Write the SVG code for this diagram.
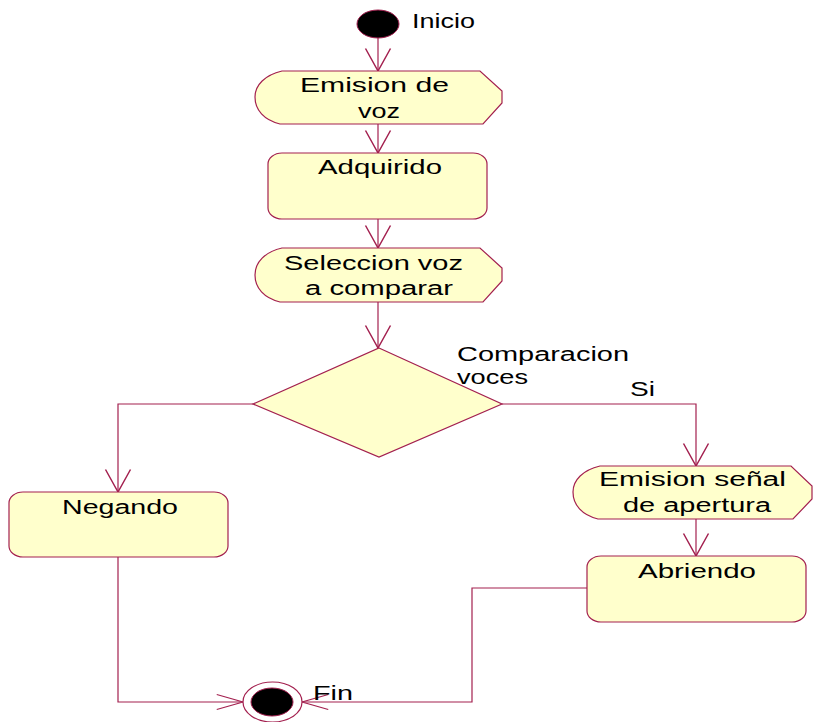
<svg xmlns="http://www.w3.org/2000/svg" width="814" height="722" viewBox="0 0 814 722">
<style>
.n{fill:#ffffcc;stroke:#a3204f;stroke-width:1.2}
.c{fill:none;stroke:#a3204f;stroke-width:1.2}
.t{font-family:"Liberation Sans",Arial,sans-serif;font-size:20px;fill:#000}
.m{text-anchor:middle}
</style>
<defs>
<marker id="arrV" markerUnits="userSpaceOnUse" orient="auto" markerWidth="30" markerHeight="30" refX="0" refY="0" viewBox="-20 -12 22 24" overflow="visible">
<path d="M-18,-10 L0,0 L-18,10" fill="none" stroke="#a3204f" stroke-width="1.2"/>
</marker>
<marker id="arrH" markerUnits="userSpaceOnUse" orient="auto" markerWidth="30" markerHeight="30" refX="0" refY="0" viewBox="-30 -10 32 20" overflow="visible">
<path d="M-28,-8 L0,0 L-28,8" fill="none" stroke="#a3204f" stroke-width="1.2"/>
</marker>
</defs>
<g id="connectors">
<path class="c" d="M378,38 L378,71" marker-end="url(#arrV)"/>
<path class="c" d="M378,124 L378,153" marker-end="url(#arrV)"/>
<path class="c" d="M378,219 L378,248" marker-end="url(#arrV)"/>
<path class="c" d="M378,302 L378,348" marker-end="url(#arrV)"/>
<path class="c" d="M253,404 L118,404 L118,492" marker-end="url(#arrV)"/>
<path class="c" d="M502,404 L696,404 L696,466" marker-end="url(#arrV)"/>
<text class="t" x="630" y="396" textLength="25" lengthAdjust="spacingAndGlyphs">Si</text>
<path class="c" d="M696,519 L696,556" marker-end="url(#arrV)"/>
<path class="c" d="M118,557 L118,702 L243,702" marker-end="url(#arrH)"/>
<path class="c" d="M587,588 L472,588 L472,702 L302,702" marker-end="url(#arrH)"/>
</g>
<g id="inicio">
<ellipse cx="378" cy="24" rx="21" ry="14" fill="#000" stroke="#a3204f" stroke-width="1"/>
<text class="t" x="412" y="28" textLength="63" lengthAdjust="spacingAndGlyphs">Inicio</text>
</g>
<g id="emision-voz">
<path class="n" d="M282,71 L480,71 L502,91 L502,103 L483,124 L280,124 C264,120 255,110 255,97 C255,85 265,75 282,71 Z"/>
<text class="t" x="300" y="92" textLength="149" lengthAdjust="spacingAndGlyphs">Emision de</text>
<text class="t" x="358" y="118" textLength="42" lengthAdjust="spacingAndGlyphs">voz</text>
</g>
<g id="adquirido">
<rect class="n" x="268" y="153" width="219" height="66" rx="14" ry="11"/>
<text class="t" x="318" y="174" textLength="124" lengthAdjust="spacingAndGlyphs">Adquirido</text>
</g>
<g id="seleccion">
<path class="n" d="M282,248 L480,248 L502,268 L502,281 L483,302 L280,302 C264,298 255,288 255,275 C255,262 265,252 282,248 Z"/>
<text class="t" x="284" y="270" textLength="179" lengthAdjust="spacingAndGlyphs">Seleccion voz</text>
<text class="t" x="305" y="295" textLength="148" lengthAdjust="spacingAndGlyphs">a comparar</text>
</g>
<g id="comparacion">
<path class="n" d="M379,348 L502,404 L379,457 L253,404 Z"/>
<text class="t" x="457" y="361" textLength="172" lengthAdjust="spacingAndGlyphs">Comparacion</text>
<text class="t" x="457" y="384" textLength="71" lengthAdjust="spacingAndGlyphs">voces</text>
</g>
<g id="negando">
<rect class="n" x="9" y="492" width="219" height="65" rx="14" ry="11"/>
<text class="t" x="62" y="514" textLength="116" lengthAdjust="spacingAndGlyphs">Negando</text>
</g>
<g id="emision-senal">
<path class="n" d="M600,466 L791,466 L812,486 L812,499 L793,519 L598,519 C582,515 573,505 573,492 C573,480 583,470 600,466 Z"/>
<text class="t" x="599" y="486" textLength="187" lengthAdjust="spacingAndGlyphs">Emision señal</text>
<text class="t" x="623" y="512" textLength="148" lengthAdjust="spacingAndGlyphs">de apertura</text>
</g>
<g id="abriendo">
<rect class="n" x="587" y="556" width="219" height="66" rx="14" ry="11"/>
<text class="t" x="638" y="578" textLength="118" lengthAdjust="spacingAndGlyphs">Abriendo</text>
</g>
<g id="fin">
<ellipse cx="272.5" cy="702" rx="29.5" ry="20" fill="#fff" stroke="#a3204f" stroke-width="1.2"/>
<ellipse cx="272" cy="702" rx="21" ry="14" fill="#000" stroke="#a3204f" stroke-width="1"/>
<text class="t" x="313" y="700" textLength="40" lengthAdjust="spacingAndGlyphs">Fin</text>
</g>
</svg>
